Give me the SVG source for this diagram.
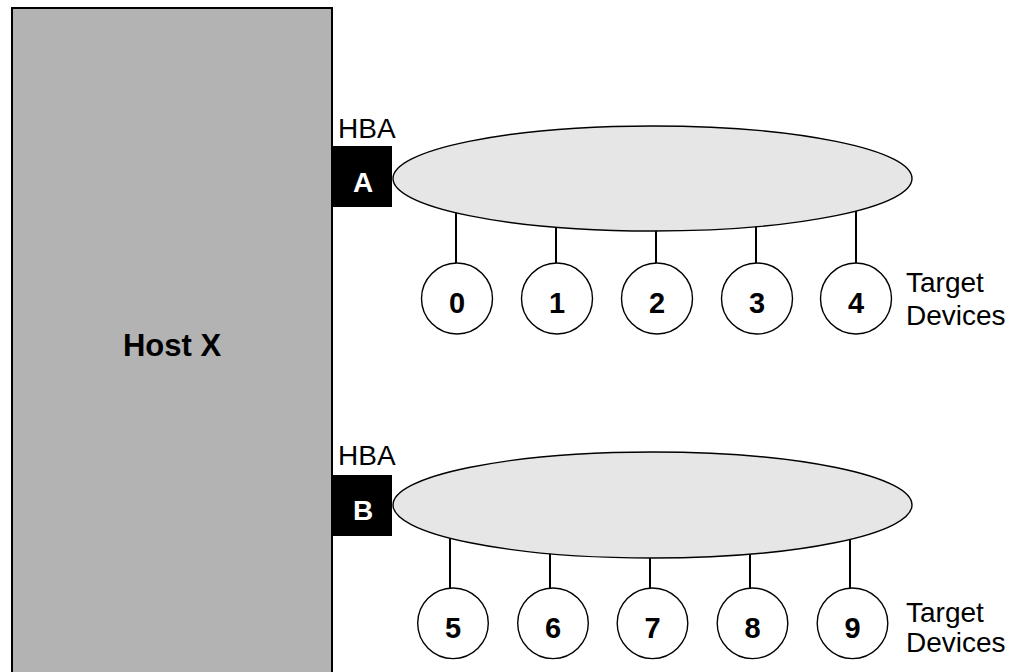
<svg xmlns="http://www.w3.org/2000/svg" width="1013" height="672" viewBox="0 0 1013 672">
<style>
.lbl{font-family:"Liberation Sans",Arial,sans-serif;font-size:28px;fill:#000}
.bold{font-family:"Liberation Sans",Arial,sans-serif;font-weight:bold}
.dev{fill:#fff;stroke:#000;stroke-width:1.4}
.num{font-family:"Liberation Sans",Arial,sans-serif;font-weight:bold;font-size:29px;text-anchor:middle;fill:#000}
.bus{fill:#e6e6e6;stroke:#000;stroke-width:1.4}
.conn line{stroke:#000;stroke-width:2}
</style>
<rect width="1013" height="672" fill="#fff"/>
<g id="host">
<rect x="12" y="8" width="320" height="680" fill="#b3b3b3" stroke="#000" stroke-width="2"/>
<text x="172" y="356" class="bold" font-size="31" text-anchor="middle">Host X</text>
</g>
<g id="connectors" class="conn">
<line x1="456" y1="205" x2="456" y2="263"/>
<line x1="556" y1="220" x2="556" y2="263"/>
<line x1="656" y1="225" x2="656" y2="263"/>
<line x1="756" y1="220" x2="756" y2="263"/>
<line x1="856" y1="205" x2="856" y2="263"/>
<line x1="450" y1="532" x2="450" y2="588"/>
<line x1="550" y1="548" x2="550" y2="588"/>
<line x1="650" y1="552" x2="650" y2="588"/>
<line x1="750" y1="548" x2="750" y2="588"/>
<line x1="850" y1="532" x2="850" y2="588"/>
</g>
<g id="busA">
<ellipse cx="652.5" cy="178.5" rx="259.5" ry="52.5" class="bus"/>
</g>
<g id="busB">
<ellipse cx="652.5" cy="505" rx="259.5" ry="53" class="bus"/>
</g>
<g id="hbaA">
<text x="338" y="138" class="lbl">HBA</text>
<rect x="332" y="146" width="60" height="61" fill="#000"/>
<text x="363" y="191.5" class="bold" font-size="28" fill="#fff" text-anchor="middle">A</text>
</g>
<g id="hbaB">
<text x="338" y="465" class="lbl">HBA</text>
<rect x="332" y="475" width="60" height="61" fill="#000"/>
<text x="363" y="520" class="bold" font-size="28" fill="#fff" text-anchor="middle">B</text>
</g>
<g id="dev0"><circle cx="457" cy="298.5" r="35.5" class="dev"/><text x="457" y="313" class="num">0</text></g>
<g id="dev1"><circle cx="557" cy="298.5" r="35.5" class="dev"/><text x="557" y="313" class="num">1</text></g>
<g id="dev2"><circle cx="657" cy="298.5" r="35.5" class="dev"/><text x="657" y="313" class="num">2</text></g>
<g id="dev3"><circle cx="757" cy="298.5" r="35.5" class="dev"/><text x="757" y="313" class="num">3</text></g>
<g id="dev4"><circle cx="856" cy="298.5" r="35.5" class="dev"/><text x="856" y="313" class="num">4</text></g>
<g id="dev5"><circle cx="453" cy="623.3" r="35.3" class="dev"/><text x="453" y="637.5" class="num">5</text></g>
<g id="dev6"><circle cx="553" cy="623.3" r="35.3" class="dev"/><text x="553" y="637.5" class="num">6</text></g>
<g id="dev7"><circle cx="652.5" cy="623.3" r="35.3" class="dev"/><text x="652.5" y="637.5" class="num">7</text></g>
<g id="dev8"><circle cx="752.5" cy="623.3" r="35.3" class="dev"/><text x="752.5" y="637.5" class="num">8</text></g>
<g id="dev9"><circle cx="852.5" cy="623.3" r="35.3" class="dev"/><text x="852.5" y="637.5" class="num">9</text></g>
<g id="labelTop">
<text x="906" y="291.5" class="lbl">Target</text>
<text x="906" y="324.5" class="lbl">Devices</text>
</g>
<g id="labelBottom">
<text x="906" y="621.5" class="lbl">Target</text>
<text x="906" y="652" class="lbl">Devices</text>
</g>
</svg>
